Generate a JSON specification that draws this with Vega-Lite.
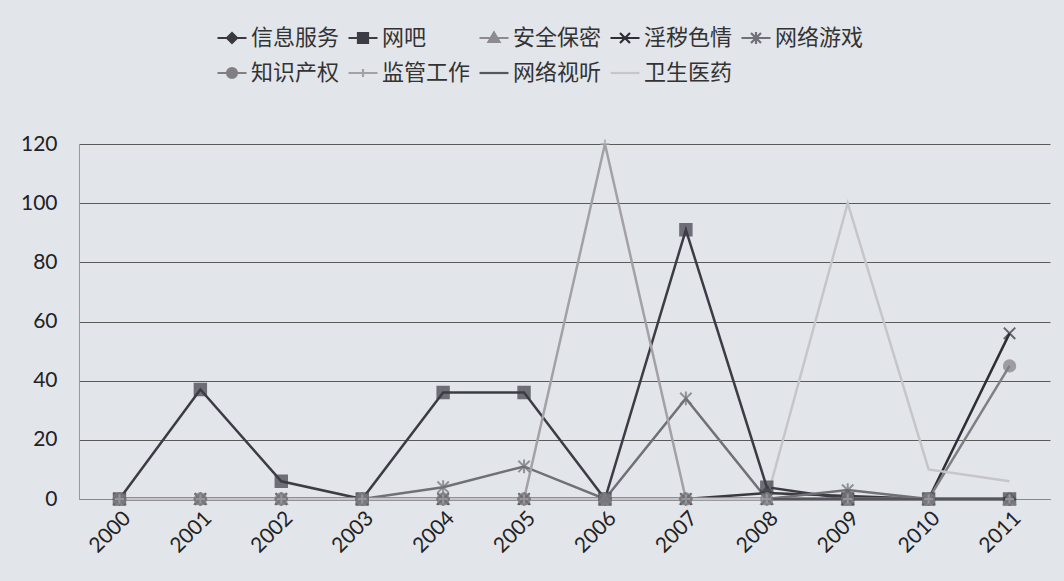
{
  "$schema": "https://vega.github.io/schema/vega-lite/v6.json",
  "width": 971,
  "height": 355,
  "autosize": {"type": "none"},
  "padding": {"left": 79, "top": 144, "right": 14, "bottom": 82},
  "background": "#e2e5ea",
  "config": {
    "view": {"stroke": null},
    "font": "Lato",
    "axis": {"labelFont": "Lato", "labelColor": "#222222", "labelFontSize": 21}
  },
  "data": {
    "values": [
      {"year": "2000", "series": "信息服务", "value": 0}, {"year": "2001", "series": "信息服务", "value": 0}, {"year": "2002", "series": "信息服务", "value": 0}, {"year": "2003", "series": "信息服务", "value": 0}, {"year": "2004", "series": "信息服务", "value": 0}, {"year": "2005", "series": "信息服务", "value": 0}, {"year": "2006", "series": "信息服务", "value": 0}, {"year": "2007", "series": "信息服务", "value": 0}, {"year": "2008", "series": "信息服务", "value": 2}, {"year": "2009", "series": "信息服务", "value": 1}, {"year": "2010", "series": "信息服务", "value": 0}, {"year": "2011", "series": "信息服务", "value": 0},
      {"year": "2000", "series": "网吧", "value": 0}, {"year": "2001", "series": "网吧", "value": 37}, {"year": "2002", "series": "网吧", "value": 6}, {"year": "2003", "series": "网吧", "value": 0}, {"year": "2004", "series": "网吧", "value": 36}, {"year": "2005", "series": "网吧", "value": 36}, {"year": "2006", "series": "网吧", "value": 0}, {"year": "2007", "series": "网吧", "value": 91}, {"year": "2008", "series": "网吧", "value": 4}, {"year": "2009", "series": "网吧", "value": 0}, {"year": "2010", "series": "网吧", "value": 0}, {"year": "2011", "series": "网吧", "value": 0},
      {"year": "2000", "series": "安全保密", "value": 0}, {"year": "2001", "series": "安全保密", "value": 0}, {"year": "2002", "series": "安全保密", "value": 0}, {"year": "2003", "series": "安全保密", "value": 0}, {"year": "2004", "series": "安全保密", "value": 0}, {"year": "2005", "series": "安全保密", "value": 0}, {"year": "2006", "series": "安全保密", "value": 0}, {"year": "2007", "series": "安全保密", "value": 0}, {"year": "2008", "series": "安全保密", "value": 0}, {"year": "2009", "series": "安全保密", "value": 0}, {"year": "2010", "series": "安全保密", "value": 0}, {"year": "2011", "series": "安全保密", "value": 0},
      {"year": "2000", "series": "淫秽色情", "value": 0}, {"year": "2001", "series": "淫秽色情", "value": 0}, {"year": "2002", "series": "淫秽色情", "value": 0}, {"year": "2003", "series": "淫秽色情", "value": 0}, {"year": "2004", "series": "淫秽色情", "value": 0}, {"year": "2005", "series": "淫秽色情", "value": 0}, {"year": "2006", "series": "淫秽色情", "value": 0}, {"year": "2007", "series": "淫秽色情", "value": 0}, {"year": "2008", "series": "淫秽色情", "value": 0}, {"year": "2009", "series": "淫秽色情", "value": 0}, {"year": "2010", "series": "淫秽色情", "value": 0}, {"year": "2011", "series": "淫秽色情", "value": 56},
      {"year": "2000", "series": "网络游戏", "value": 0}, {"year": "2001", "series": "网络游戏", "value": 0}, {"year": "2002", "series": "网络游戏", "value": 0}, {"year": "2003", "series": "网络游戏", "value": 0}, {"year": "2004", "series": "网络游戏", "value": 4}, {"year": "2005", "series": "网络游戏", "value": 11}, {"year": "2006", "series": "网络游戏", "value": 0}, {"year": "2007", "series": "网络游戏", "value": 34}, {"year": "2008", "series": "网络游戏", "value": 0}, {"year": "2009", "series": "网络游戏", "value": 3}, {"year": "2010", "series": "网络游戏", "value": 0}, {"year": "2011", "series": "网络游戏", "value": 0},
      {"year": "2000", "series": "知识产权", "value": 0}, {"year": "2001", "series": "知识产权", "value": 0}, {"year": "2002", "series": "知识产权", "value": 0}, {"year": "2003", "series": "知识产权", "value": 0}, {"year": "2004", "series": "知识产权", "value": 0}, {"year": "2005", "series": "知识产权", "value": 0}, {"year": "2006", "series": "知识产权", "value": 0}, {"year": "2007", "series": "知识产权", "value": 0}, {"year": "2008", "series": "知识产权", "value": 0}, {"year": "2009", "series": "知识产权", "value": 0}, {"year": "2010", "series": "知识产权", "value": 0}, {"year": "2011", "series": "知识产权", "value": 45},
      {"year": "2000", "series": "监管工作", "value": 0}, {"year": "2001", "series": "监管工作", "value": 0}, {"year": "2002", "series": "监管工作", "value": 0}, {"year": "2003", "series": "监管工作", "value": 0}, {"year": "2004", "series": "监管工作", "value": 0}, {"year": "2005", "series": "监管工作", "value": 0}, {"year": "2006", "series": "监管工作", "value": 120}, {"year": "2007", "series": "监管工作", "value": 0}, {"year": "2008", "series": "监管工作", "value": 0}, {"year": "2009", "series": "监管工作", "value": 0}, {"year": "2010", "series": "监管工作", "value": 0}, {"year": "2011", "series": "监管工作", "value": 0},
      {"year": "2000", "series": "网络视听", "value": 0}, {"year": "2001", "series": "网络视听", "value": 0}, {"year": "2002", "series": "网络视听", "value": 0}, {"year": "2003", "series": "网络视听", "value": 0}, {"year": "2004", "series": "网络视听", "value": 0}, {"year": "2005", "series": "网络视听", "value": 0}, {"year": "2006", "series": "网络视听", "value": 0}, {"year": "2007", "series": "网络视听", "value": 0}, {"year": "2008", "series": "网络视听", "value": 0}, {"year": "2009", "series": "网络视听", "value": 0}, {"year": "2010", "series": "网络视听", "value": 0}, {"year": "2011", "series": "网络视听", "value": 0},
      {"year": "2000", "series": "卫生医药", "value": 0}, {"year": "2001", "series": "卫生医药", "value": 0}, {"year": "2002", "series": "卫生医药", "value": 0}, {"year": "2003", "series": "卫生医药", "value": 0}, {"year": "2004", "series": "卫生医药", "value": 0}, {"year": "2005", "series": "卫生医药", "value": 0}, {"year": "2006", "series": "卫生医药", "value": 0}, {"year": "2007", "series": "卫生医药", "value": 0}, {"year": "2008", "series": "卫生医药", "value": 0}, {"year": "2009", "series": "卫生医药", "value": 100}, {"year": "2010", "series": "卫生医药", "value": 10}, {"year": "2011", "series": "卫生医药", "value": 6}
    ]
  },
  "encoding": {
    "x": {
      "field": "year", "type": "ordinal",
      "scale": {"type": "point", "padding": 0.5},
      "axis": {"title": null, "labelAngle": -45, "ticks": false, "domain": true, "domainColor": "#888888", "labelPadding": 8, "grid": false}
    },
    "y": {
      "field": "value", "type": "quantitative",
      "scale": {"domain": [0, 120], "nice": false},
      "axis": {"title": null, "values": [0, 20, 40, 60, 80, 100, 120], "ticks": false, "labelPadding": 22, "grid": true, "gridColor": "#5a5a5a", "gridWidth": 1, "gridOpacity": 1, "domainColor": "#9a9a9a"}
    }
  },
  "layer": [
    {
      "mark": {"type": "line", "strokeWidth": 2.5},
      "encoding": {
        "color": {
          "field": "series", "type": "nominal", "legend": null,
          "scale": {
            "domain": ["信息服务", "网吧", "安全保密", "淫秽色情", "网络游戏", "知识产权", "监管工作", "网络视听", "卫生医药"],
            "range": ["#3a3a3e", "#3c3c46", "#8c8c90", "#2e2e38", "#707078", "#808084", "#a2a2a6", "#56565e", "#c6c6ca"]
          }
        }
      }
    },
    {
      "transform": [{"filter": {"field": "series", "oneOf": ["信息服务", "网吧", "安全保密", "淫秽色情", "网络游戏", "知识产权", "监管工作"]}}],
      "mark": {"type": "point", "filled": true, "size": 130, "strokeWidth": 2},
      "encoding": {
        "color": {
          "field": "series", "type": "nominal", "legend": null,
          "scale": {
            "domain": ["信息服务", "网吧", "安全保密", "淫秽色情", "网络游戏", "知识产权", "监管工作", "网络视听", "卫生医药"],
            "range": ["#3a3a3e", "#3c3c46", "#8c8c90", "#2e2e38", "#707078", "#808084", "#a2a2a6", "#56565e", "#c6c6ca"]
          }
        },
        "shape": {
          "field": "series", "type": "nominal", "legend": null,
          "scale": {
            "domain": ["信息服务", "网吧", "安全保密", "淫秽色情", "网络游戏", "知识产权", "监管工作"],
            "range": ["diamond", "square", "triangle-up", "M-1,-1L1,1M-1,1L1,-1", "M-1,-1L1,1M-1,1L1,-1M0,-1.2L0,1.2", "circle", "M0,-0.8L0,0.8M-0.8,0L0.8,0"]
          }
        },
        "stroke": {
          "field": "series", "type": "nominal", "legend": null,
          "scale": {
            "domain": ["信息服务", "网吧", "安全保密", "淫秽色情", "网络游戏", "知识产权", "监管工作", "网络视听", "卫生医药"],
            "range": ["#3a3a3e", "#3c3c46", "#8c8c90", "#2e2e38", "#707078", "#808084", "#a2a2a6", "#56565e", "#c6c6ca"]
          }
        }
      }
    },
    {
      "mark": {"type": "point", "filled": true, "opacity": 0},
      "encoding": {
        "fill": {
          "field": "series", "type": "nominal",
          "scale": {
            "domain": ["信息服务", "网吧", "安全保密", "淫秽色情", "网络游戏", "知识产权", "监管工作", "网络视听", "卫生医药"],
            "range": ["#3a3a3e", "#3c3c46", "#8c8c90", "#2e2e38", "#707078", "#808084", "#a2a2a6", "#56565e", "#c6c6ca"]
          },
          "legend": {"title": null}
        },
        "stroke": {
          "field": "series", "type": "nominal",
          "scale": {
            "domain": ["信息服务", "网吧", "安全保密", "淫秽色情", "网络游戏", "知识产权", "监管工作", "网络视听", "卫生医药"],
            "range": ["#3a3a3e", "#3c3c46", "#8c8c90", "#2e2e38", "#707078", "#808084", "#a2a2a6", "#56565e", "#c6c6ca"]
          },
          "legend": {"title": null}
        },
        "shape": {
          "field": "series", "type": "nominal",
          "scale": {
            "domain": ["信息服务", "网吧", "安全保密", "淫秽色情", "网络游戏", "知识产权", "监管工作", "网络视听", "卫生医药"],
            "range": [
              "M-2.9,0L2.9,0M0,-1L1,0L0,1L-1,0Z",
              "M-2.9,0L2.9,0M-1,-1L1,-1L1,1L-1,1Z",
              "M-2.9,0L2.9,0M0,-1.1L1.1,0.8L-1.1,0.8Z",
              "M-2.9,0L2.9,0M-1,-1L1,1M-1,1L1,-1",
              "M-2.9,0L2.9,0M-1,-1L1,1M-1,1L1,-1M0,-1.2L0,1.2",
              "M-2.9,0L2.9,0M1,0A1,1,0,1,1,-1,0A1,1,0,1,1,1,0Z",
              "M-2.9,0L2.9,0M0,-0.8L0,0.8",
              "M-2.9,0L2.9,0",
              "M-2.9,0L2.9,0"
            ]
          },
          "legend": {
            "title": null,
            "orient": "none",
            "legendX": 130,
            "legendY": -117,
            "direction": "horizontal",
            "columns": 5,
            "gridAlign": "all",
            "symbolSize": 100,
            "symbolOffset": 12,
            "symbolStrokeWidth": 2.2,
            "symbolOpacity": 1,
            "labelOffset": 8,
            "labelFont": "Noto Sans CJK SC",
            "labelFontSize": 22,
            "labelColor": "#333333",
            "labelLimit": 200,
            "columnPadding": 0,
            "rowPadding": 13
          }
        }
      }
    }
  ],
  "resolve": {"scale": {"shape": "independent", "stroke": "independent", "fill": "independent"}}
}
